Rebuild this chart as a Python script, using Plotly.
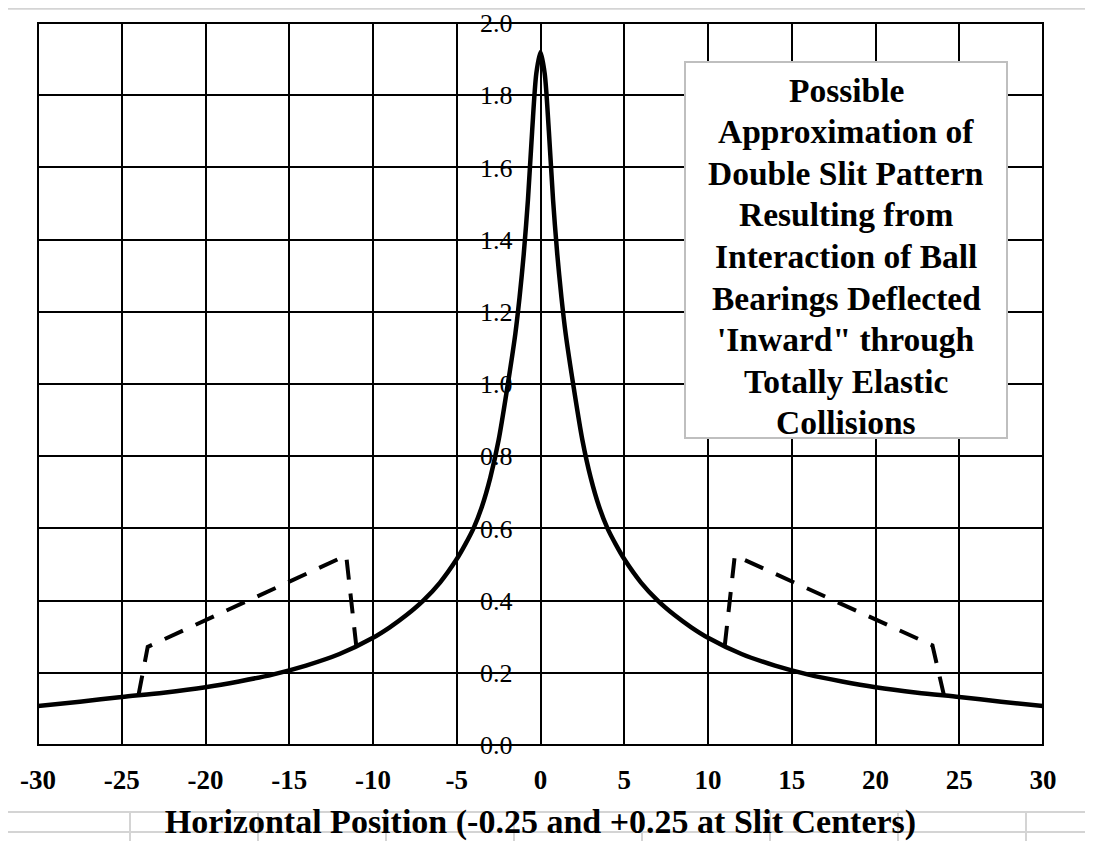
import plotly.graph_objects as go

# ---------------- data ----------------
solid_x = [-30, -27.5, -25, -22.5, -20, -18, -16, -14, -12, -10, -9, -8, -7, -6, -5, -4.5, -4, -3.5, -3,
           -2.5, -2, -1.5, -1.25, -1, -0.75, -0.5, -0.25, 0,
           0.25, 0.5, 0.75, 1, 1.25, 1.5, 2, 2.5, 3, 3.5, 4, 4.5, 5, 6, 7, 8, 9, 10, 12, 14, 16, 18,
           20, 22.5, 25, 27.5, 30]
solid_y = [0.108, 0.12, 0.133, 0.145, 0.160, 0.176, 0.195, 0.22, 0.252, 0.297, 0.326, 0.36, 0.40,
           0.45, 0.515, 0.555, 0.60, 0.66, 0.74, 0.845, 0.985, 1.14, 1.24, 1.36, 1.51, 1.70, 1.86, 1.92,
           1.86, 1.70, 1.51, 1.36, 1.24, 1.14, 0.985, 0.845, 0.74, 0.66, 0.60, 0.555, 0.515, 0.45, 0.40,
           0.36, 0.326, 0.297, 0.252, 0.22, 0.195, 0.176, 0.160, 0.145, 0.133, 0.12, 0.108]

dash_left_x = [-24.0, -23.45, -11.6, -11.0]
dash_left_y = [0.138, 0.272, 0.525, 0.275]
dash_right_x = [11.0, 11.6, 23.4, 24.1]
dash_right_y = [0.275, 0.525, 0.276, 0.135]

x_ticks = [-30, -25, -20, -15, -10, -5, 0, 5, 10, 15, 20, 25, 30]
x_tick_labels = ["-30", "-25", "-20", "-15", "-10", "-5", "0", "5", "10", "15", "20", "25", "30"]
y_ticks = [0.0, 0.2, 0.4, 0.6, 0.8, 1.0, 1.2, 1.4, 1.6, 1.8, 2.0]
y_tick_labels = ["0.0", "0.2", "0.4", "0.6", "0.8", "1.0", "1.2", "1.4", "1.6", "1.8", "2.0"]

box_lines = ["Possible", "Approximation of", "Double Slit Pattern", "Resulting from",
             "Interaction of Ball", "Bearings Deflected", "'Inward\" through",
             "Totally Elastic", "Collisions"]
x_title = "Horizontal Position (-0.25 and +0.25 at Slit Centers)"

# ---------------- layout geometry ----------------
OFF = 8                         # page body margin of the html page
W, H = 1093 - OFF, 841 - OFF    # figure size so the page fits the window
L, R, T, B = 38, 1043, 23, 745  # plot area in window pixels


def px(xp):
    return (xp - L) / (R - L)


def py(yp):
    return (B - yp) / (B - T)


SERIF = "Liberation Serif, Times New Roman, serif"

fig = go.Figure()
fig.add_trace(go.Scatter(x=solid_x, y=solid_y, mode="lines",
                         line=dict(color="black", width=4.5, shape="spline", smoothing=0.8),
                         hoverinfo="skip"))
fig.add_trace(go.Scatter(x=dash_left_x, y=dash_left_y, mode="lines",
                         line=dict(color="black", width=4, dash="20px,14px"), hoverinfo="skip"))
fig.add_trace(go.Scatter(x=dash_right_x, y=dash_right_y, mode="lines",
                         line=dict(color="black", width=4, dash="20px,14px"), hoverinfo="skip"))

shapes = []
GRAY = "#d4d4d4"
# spreadsheet / chart-area light lines
shapes.append(dict(type="line", xref="paper", yref="paper", x0=px(OFF), x1=px(1093), y0=py(8.8), y1=py(8.8),
                   line=dict(color=GRAY, width=2), layer="below"))
for cx in [130, 258, 386, 514, 642, 770, 898, 1026]:
    shapes.append(dict(type="line", xref="paper", yref="paper", x0=px(cx), x1=px(cx), y0=py(812), y1=py(841),
                       line=dict(color=GRAY, width=2), layer="below"))
shapes.append(dict(type="line", xref="paper", yref="paper", x0=px(1088), x1=px(1088), y0=py(8), y1=py(812),
                   line=dict(color=GRAY, width=2), layer="below"))
shapes.append(dict(type="line", xref="paper", yref="paper", x0=px(OFF), x1=px(1088), y0=py(812), y1=py(812),
                   line=dict(color=GRAY, width=2), layer="below"))
shapes.append(dict(type="line", xref="paper", yref="paper", x0=px(OFF), x1=px(1093), y0=py(832), y1=py(832),
                   line=dict(color=GRAY, width=2), layer="below"))
# plot border
shapes.append(dict(type="rect", xref="paper", yref="paper", x0=0, x1=1, y0=0, y1=1,
                   line=dict(color="black", width=2), layer="above"))
# text box
shapes.append(dict(type="rect", xref="paper", yref="paper", x0=px(685), x1=px(1007), y0=py(438), y1=py(62),
                   line=dict(color="#bfbfbf", width=2), fillcolor="white", layer="above"))

annotations = []
for i, t in enumerate(box_lines):
    annotations.append(dict(xref="paper", yref="paper", x=px(846), y=py(90 + i * 41.6),
                            xanchor="center", yanchor="middle", text=t, showarrow=False,
                            font=dict(family=SERIF, size=33.5, color="black", weight="bold")))

fig.update_layout(
    width=W, height=H,
    margin=dict(l=L - OFF, r=W - (R - OFF), t=T - OFF, b=H - (B - OFF), pad=0, autoexpand=False),
    paper_bgcolor="white", plot_bgcolor="white",
    showlegend=False,
    shapes=shapes, annotations=annotations,
    xaxis=dict(range=[-30, 30], tickmode="array", tickvals=x_ticks, ticktext=x_tick_labels,
               showgrid=True, gridcolor="black", gridwidth=1.5, zeroline=False, showline=False,
               ticks="", ticklabelstandoff=16, automargin=False,
               tickfont=dict(family=SERIF, size=27, color="black", weight="bold"),
               title=dict(text=x_title, standoff=17,
                          font=dict(family=SERIF, size=34, color="black", weight="bold"))),
    yaxis=dict(range=[0, 2.0], tickmode="array", tickvals=y_ticks, ticktext=y_tick_labels,
               anchor="free", position=0.5, side="left", automargin=False,
               showgrid=True, gridcolor="black", gridwidth=1.5, zeroline=False, showline=False,
               ticks="", ticklabelstandoff=28,
               tickfont=dict(family=SERIF, size=26, color="black")),
)

fig.write_html("out.html")
